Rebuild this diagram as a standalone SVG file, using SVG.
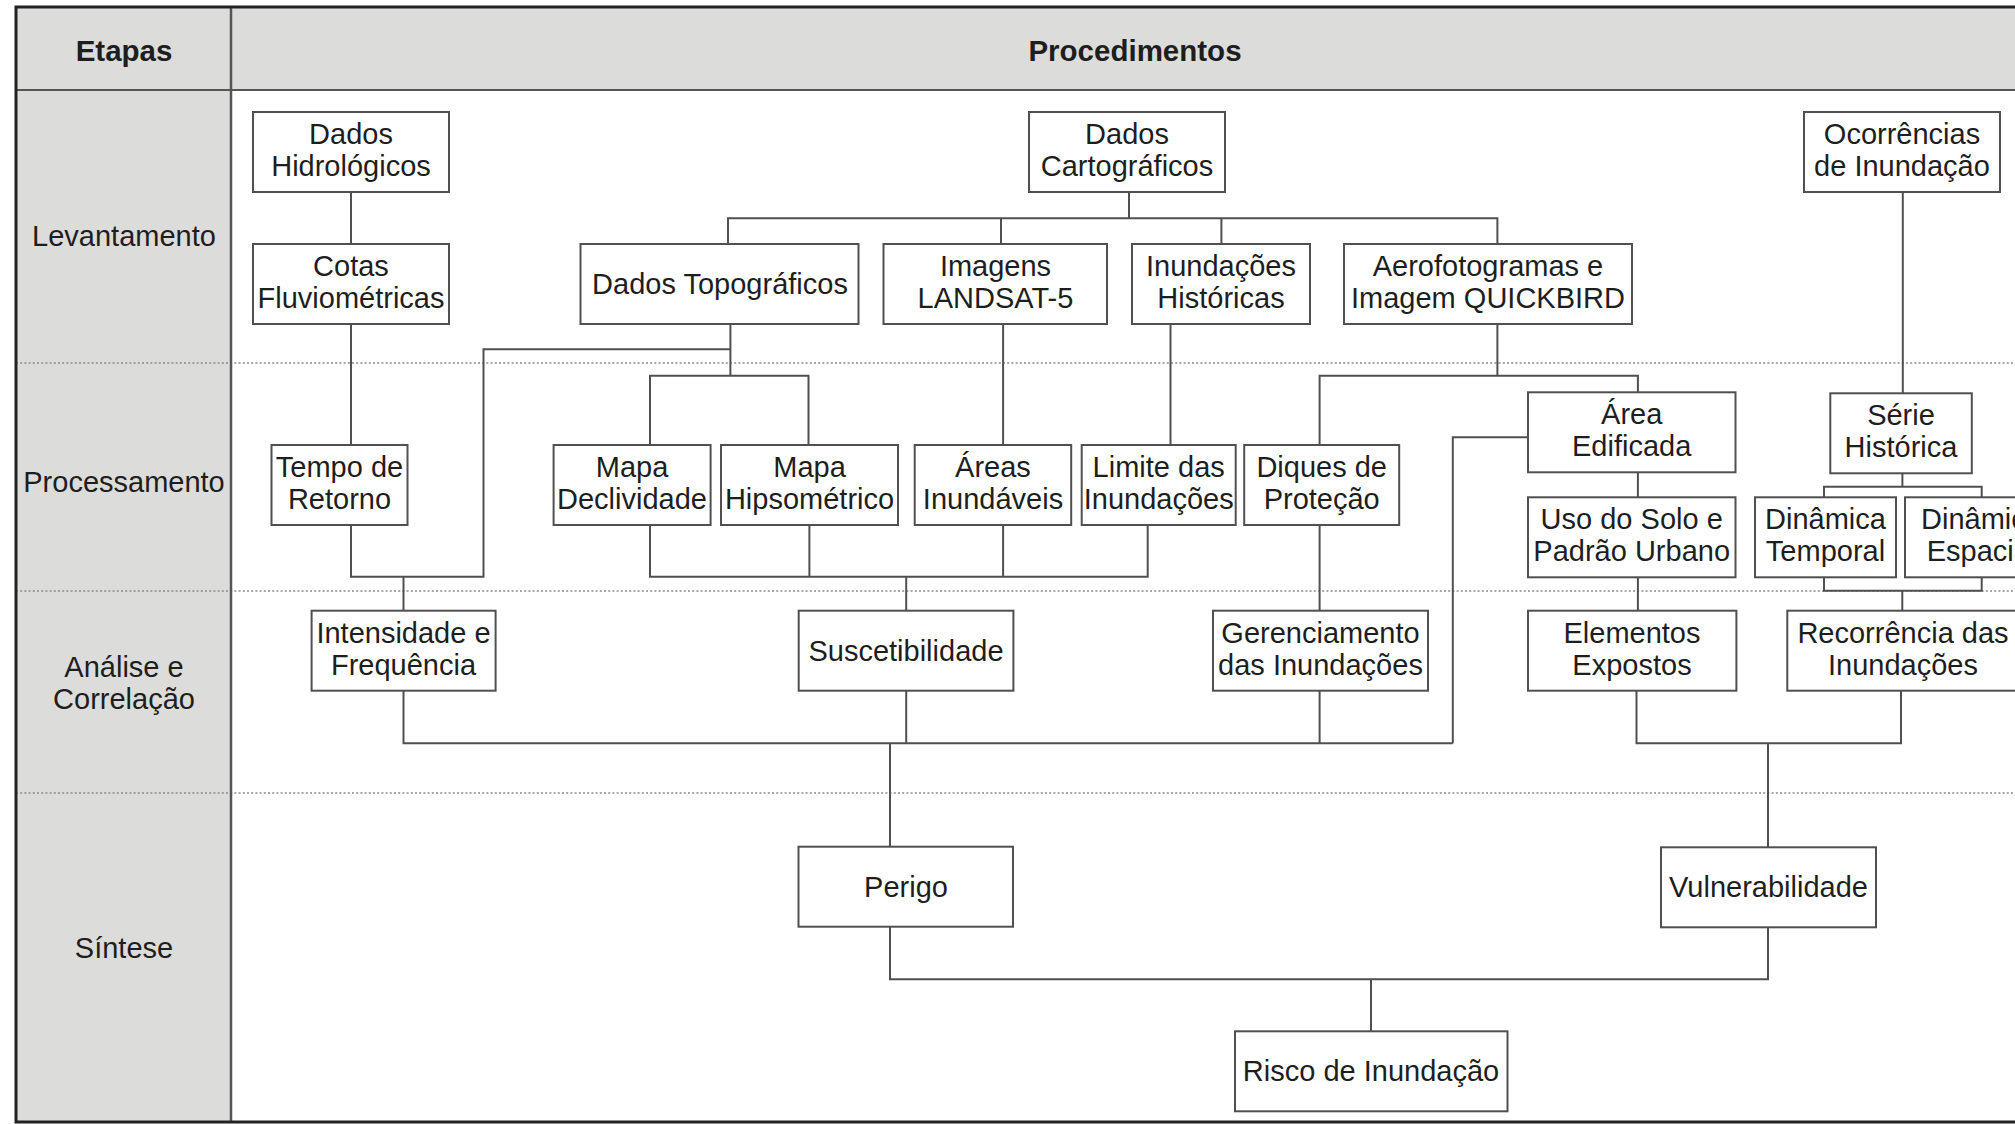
<svg xmlns="http://www.w3.org/2000/svg" width="2015" height="1124" viewBox="0 0 2015 1124">
<style>
  .bg { fill: #ffffff; }
  .band { fill: #dcdcdb; }
  .frame { fill: none; stroke: #222222; stroke-width: 3; }
  .rule { stroke: #555555; stroke-width: 2; fill: none; }
  .dot { stroke: #8a8a8a; stroke-width: 1.6; stroke-dasharray: 2 2.2; fill: none; }
  .box { fill: #ffffff; stroke: #505050; stroke-width: 2; }
  .conn { fill: none; stroke: #505050; stroke-width: 2; }
  text { font-family: "Liberation Sans", Arial, sans-serif; font-size: 29px; fill: #1e1e1e; text-anchor: middle; }
  .hd { font-weight: bold; font-size: 29.5px; }
</style>
<rect class="bg" x="0" y="0" width="2015" height="1124"/>
<g id="frame">
  <rect class="band" x="16" y="7" width="2030" height="83"/>
  <rect class="band" x="16" y="90" width="215" height="1032"/>
  <line class="dot" x1="16" y1="363" x2="2046" y2="363"/>
  <line class="dot" x1="16" y1="591" x2="2046" y2="591"/>
  <line class="dot" x1="16" y1="793" x2="2046" y2="793"/>
  <line class="rule" x1="16" y1="90" x2="2046" y2="90"/>
  <line class="rule" x1="231" y1="7" x2="231" y2="1122" style="stroke-width:2.5"/>
  <rect class="frame" x="16" y="7" width="2030" height="1115"/>
</g>
<g id="stages">
  <text class="hd" x="124" y="61">Etapas</text>
  <text class="hd" x="1135" y="61">Procedimentos</text>
  <text x="124" y="246">Levantamento</text>
  <text x="124" y="492">Processamento</text>
  <text x="124" y="677">Análise e</text>
  <text x="124" y="709">Correlação</text>
  <text x="124" y="958">Síntese</text>
</g>
<g id="connectors">
  <path class="conn" d="M351 192 V244"/>
  <path class="conn" d="M1129 192 V218.3 M728 244 V218.3 H1497.4 V244 M1001 218.3 V244 M1221.4 218.3 V244"/>
  <path class="conn" d="M351 324 V445"/>
  <path class="conn" d="M730.4 324 V375.7 M650 445 V375.7 H808.5 V445"/>
  <path class="conn" d="M730.4 349.3 H483.5 V576.7 H351 V525 M403.5 576.7 V610.7"/>
  <path class="conn" d="M1003.1 324 V445"/>
  <path class="conn" d="M1170.5 324 V445"/>
  <path class="conn" d="M650 525 V576.7 H1147.7 V525 M809.4 525 V576.7 M1003.1 525 V576.7 M906.2 576.7 V610.7"/>
  <path class="conn" d="M1497.4 324 V375.7 M1319.6 445 V375.7 H1637.9 V392.3"/>
  <path class="conn" d="M1319.6 525 V610.7"/>
  <path class="conn" d="M1637.9 472.3 V497.3 M1637.9 577.3 V610.7"/>
  <path class="conn" d="M1528 437.3 H1452.8 V743.3"/>
  <path class="conn" d="M1902.8 192 V393.3"/>
  <path class="conn" d="M1902.4 473.3 V486.7 M1824 497.3 V486.7 H1981.7 V497.3"/>
  <path class="conn" d="M1824 577.3 V590.7 H1981.7 V577.3 M1902.3 590.7 V610.7"/>
  <path class="conn" d="M403.5 691 V743.3 H1452.8 M906.2 691 V743.3 M1319.6 691 V743.3 M890 743.3 V846.7"/>
  <path class="conn" d="M1636.5 691 V743.3 H1901 V691 M1768 743.3 V847.3"/>
  <path class="conn" d="M890 926.7 V979.3 H1768 V927.7 M1371 979.3 V1031.3"/>
</g>
<g id="n-dados-hidrologicos">
  <rect class="box" x="253" y="112" width="196" height="80"/>
  <text x="351" y="144">Dados</text>
  <text x="351" y="176">Hidrológicos</text>
</g>
<g id="n-cotas">
  <rect class="box" x="253" y="244" width="196" height="80"/>
  <text x="351" y="276">Cotas</text>
  <text x="351" y="308">Fluviométricas</text>
</g>
<g id="n-dados-cartograficos">
  <rect class="box" x="1029" y="112" width="196" height="80"/>
  <text x="1127" y="144">Dados</text>
  <text x="1127" y="176">Cartográficos</text>
</g>
<g id="n-dados-topograficos">
  <rect class="box" x="580.5" y="244" width="278" height="80"/>
  <text x="720" y="294">Dados Topográficos</text>
</g>
<g id="n-imagens-landsat">
  <rect class="box" x="883.5" y="244" width="223.5" height="80"/>
  <text x="995.5" y="276">Imagens</text>
  <text x="995.5" y="308">LANDSAT-5</text>
</g>
<g id="n-inundacoes-historicas">
  <rect class="box" x="1132" y="244" width="178" height="80"/>
  <text x="1221" y="276">Inundações</text>
  <text x="1221" y="308">Históricas</text>
</g>
<g id="n-aerofotogramas">
  <rect class="box" x="1344" y="244" width="288" height="80"/>
  <text x="1488" y="276">Aerofotogramas e</text>
  <text x="1488" y="308">Imagem QUICKBIRD</text>
</g>
<g id="n-ocorrencias">
  <rect class="box" x="1804" y="112" width="196" height="80"/>
  <text x="1902" y="144">Ocorrências</text>
  <text x="1902" y="176">de Inundação</text>
</g>
<g id="n-tempo-retorno">
  <rect class="box" x="271.5" y="445" width="136" height="80"/>
  <text x="339.5" y="477">Tempo de</text>
  <text x="339.5" y="509">Retorno</text>
</g>
<g id="n-mapa-declividade">
  <rect class="box" x="553.6" y="445" width="157" height="80"/>
  <text x="632" y="477">Mapa</text>
  <text x="632" y="509">Declividade</text>
</g>
<g id="n-mapa-hipsometrico">
  <rect class="box" x="721" y="445" width="177" height="80"/>
  <text x="809.5" y="477">Mapa</text>
  <text x="809.5" y="509">Hipsométrico</text>
</g>
<g id="n-areas-inundaveis">
  <rect class="box" x="914.7" y="445" width="156.5" height="80"/>
  <text x="993" y="477">Áreas</text>
  <text x="993" y="509">Inundáveis</text>
</g>
<g id="n-limite-inundacoes">
  <rect class="box" x="1081.7" y="445" width="154" height="80"/>
  <text x="1158.7" y="477">Limite das</text>
  <text x="1158.7" y="509">Inundações</text>
</g>
<g id="n-diques">
  <rect class="box" x="1244.2" y="445" width="155" height="80"/>
  <text x="1321.7" y="477">Diques de</text>
  <text x="1321.7" y="509">Proteção</text>
</g>
<g id="n-area-edificada">
  <rect class="box" x="1528" y="392.3" width="207.5" height="80"/>
  <text x="1631.7" y="424.3">Área</text>
  <text x="1631.7" y="456.3">Edificada</text>
</g>
<g id="n-uso-solo">
  <rect class="box" x="1528" y="497.3" width="207.5" height="80"/>
  <text x="1631.7" y="529.3">Uso do Solo e</text>
  <text x="1631.7" y="561.3">Padrão Urbano</text>
</g>
<g id="n-serie-historica">
  <rect class="box" x="1830.3" y="393.3" width="141.5" height="80"/>
  <text x="1901" y="425.3">Série</text>
  <text x="1901" y="457.3">Histórica</text>
</g>
<g id="n-dinamica-temporal">
  <rect class="box" x="1755" y="497.3" width="141" height="80"/>
  <text x="1825.5" y="529.3">Dinâmica</text>
  <text x="1825.5" y="561.3">Temporal</text>
</g>
<g id="n-dinamica-espacial">
  <rect class="box" x="1905" y="497.3" width="153" height="80"/>
  <text x="1981.5" y="529.3">Dinâmica</text>
  <text x="1981.5" y="561.3">Espacial</text>
</g>
<g id="n-intensidade">
  <rect class="box" x="311.6" y="610.7" width="184" height="80"/>
  <text x="403.5" y="642.7">Intensidade e</text>
  <text x="403.5" y="674.7">Frequência</text>
</g>
<g id="n-suscetibilidade">
  <rect class="box" x="798.7" y="610.7" width="214.7" height="80"/>
  <text x="906" y="660.5">Suscetibilidade</text>
</g>
<g id="n-gerenciamento">
  <rect class="box" x="1213" y="610.7" width="215" height="80"/>
  <text x="1320.5" y="642.7">Gerenciamento</text>
  <text x="1320.5" y="674.7">das Inundações</text>
</g>
<g id="n-elementos-expostos">
  <rect class="box" x="1528" y="610.7" width="208.4" height="80"/>
  <text x="1632" y="642.7">Elementos</text>
  <text x="1632" y="674.7">Expostos</text>
</g>
<g id="n-recorrencia">
  <rect class="box" x="1787.3" y="610.7" width="230" height="80"/>
  <text x="1903" y="642.7">Recorrência das</text>
  <text x="1903" y="674.7">Inundações</text>
</g>
<g id="n-perigo">
  <rect class="box" x="798.5" y="846.7" width="214.5" height="80"/>
  <text x="906" y="896.5">Perigo</text>
</g>
<g id="n-vulnerabilidade">
  <rect class="box" x="1661" y="847.3" width="215" height="80"/>
  <text x="1768.5" y="897">Vulnerabilidade</text>
</g>
<g id="n-risco">
  <rect class="box" x="1235" y="1031.3" width="272.5" height="80"/>
  <text x="1371" y="1081">Risco de Inundação</text>
</g>
</svg>
